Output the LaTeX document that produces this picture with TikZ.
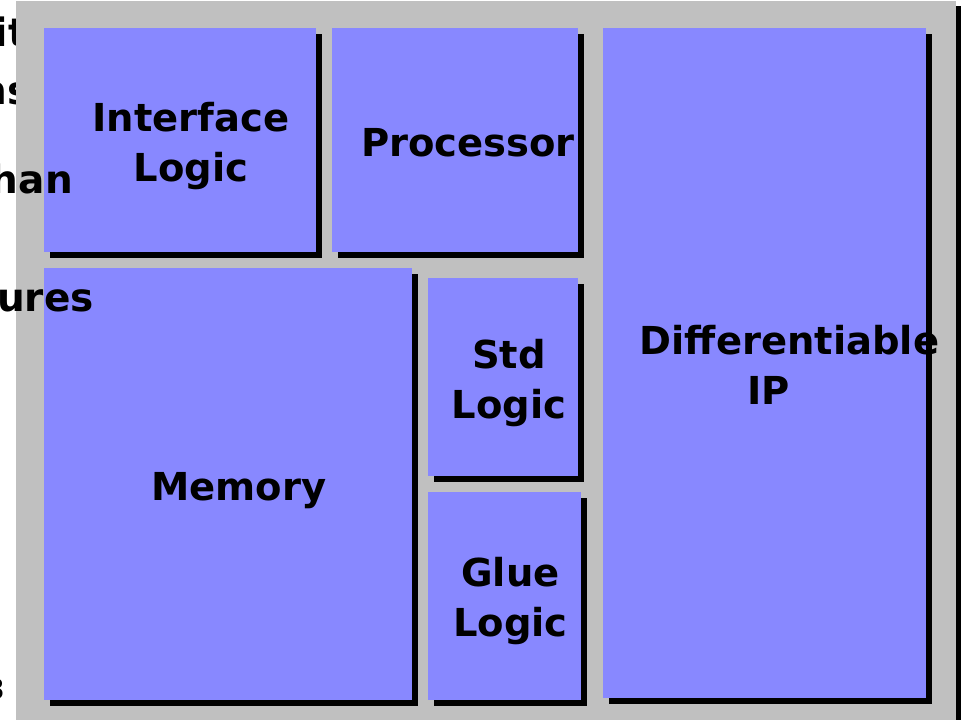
\documentclass[tikz,border=0pt]{standalone}
\usepackage{fontspec}
\setmainfont{DejaVu Sans}
\usetikzlibrary{shadows}
\definecolor{boxblue}{HTML}{8888FF}
\definecolor{panelgray}{HTML}{C0C0C0}
\tikzset{
    panel/.style = {rectangle, fill=panelgray, anchor=north west, inner sep=0pt, outer sep=0pt,
                    drop shadow={shadow xshift=5pt, shadow yshift=-5pt, fill=black, opacity=1}},
    block/.style = {rectangle, fill=boxblue, anchor=north west, inner sep=0pt, outer sep=0pt,
                    drop shadow={shadow xshift=6pt, shadow yshift=-6pt, fill=black, opacity=1}},
    tag/.style   = {align=center, inner sep=0pt, font=\bfseries\fontsize{38.5}{50}\selectfont},
    cut/.style   = {anchor=base east, inner sep=0pt, font=\bfseries\fontsize{39}{44}\selectfont}, % words running off the left edge
}

\begin{document}
\begin{tikzpicture}[x=1pt, y=-1pt]
  \useasboundingbox (0,0) rectangle (961,720);
  \clip (0,0) rectangle (961,720);

  % slide text lying under the panel
  \node[cut] (wit) at (27,46) {it};
  \node[cut] (wns) at (31,104) {ns};
  \node[cut, font=\bfseries\fontsize{28}{32}\selectfont] (wthree) at (5,699) {3};

  \node[panel, minimum width=940, minimum height=730] (base) at (16,1) {};

  \node[block, minimum width=272, minimum height=224] (iface) at (44,28)  {};
  \node[block, minimum width=246, minimum height=224] (proc)  at (332,28) {};
  \node[block, minimum width=368, minimum height=432] (mem)   at (44,268) {};
  \node[block, minimum width=150, minimum height=198] (std)   at (428,278) {};
  \node[block, minimum width=153, minimum height=208] (glue)  at (428,492) {};
  \node[block, minimum width=323, minimum height=670] (diff)  at (603,28) {};

  \node[tag] (ifacetxt) at ([xshift=11pt,yshift=-6pt]iface.center) {Interface\\Logic};
  \node[tag] (proctxt)  at ([xshift=13pt,yshift=-3pt]proc.center)  {Processor};
  \node[tag] (memtxt)   at ([xshift=11pt,yshift=-7pt]mem.center)   {Memory};
  \node[tag] (stdtxt)   at ([xshift=6pt,yshift=-6pt]std.center)    {Std\\Logic};
  \node[tag] (gluetxt)  at ([xshift=6pt,yshift=-5pt]glue.center)   {Glue\\Logic};
  \node[tag] (difftxt)  at ([xshift=25pt,yshift=-2pt]diff.center)  {Differentiable\\IP\rule{42pt}{0pt}};

  % slide text lying on top
  \node[cut] (whan)  at (73,193) {han};
  \node[cut] (wures) at (94,311) {ures};
\end{tikzpicture}
\end{document}
